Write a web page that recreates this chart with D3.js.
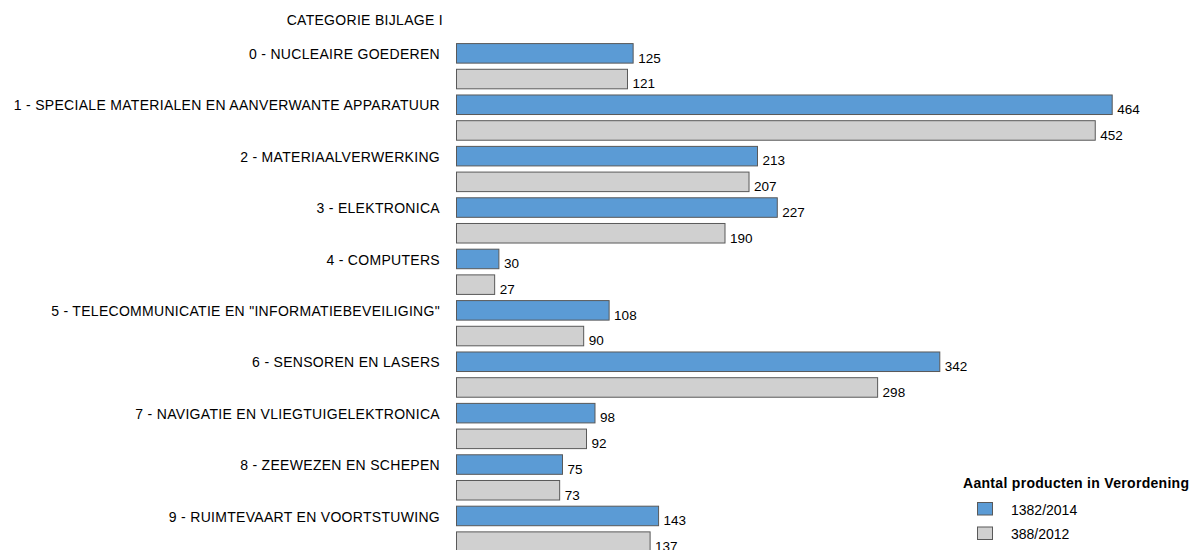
<!DOCTYPE html>
<html>
<head>
<meta charset="utf-8">
<script src="https://cdn.jsdelivr.net/npm/d3@7"></script>
<style>
  body { margin: 0; background: #fff; }
  text { font-family: "Liberation Sans", Arial, sans-serif; font-size: 14px; fill: #000; }
  .lbl { letter-spacing: 0.3px; }
  .val { font-size: 13.5px; }
</style>
</head>
<body>
<div id="chart"></div>
<script>
var categories = [
  '0 - NUCLEAIRE GOEDEREN',
  '1 - SPECIALE MATERIALEN EN AANVERWANTE APPARATUUR',
  '2 - MATERIAALVERWERKING',
  '3 - ELEKTRONICA',
  '4 - COMPUTERS',
  '5 - TELECOMMUNICATIE EN "INFORMATIEBEVEILIGING"',
  '6 - SENSOREN EN LASERS',
  '7 - NAVIGATIE EN VLIEGTUIGELEKTRONICA',
  '8 - ZEEWEZEN EN SCHEPEN',
  '9 - RUIMTEVAART EN VOORTSTUWING'
];
var seriesNames = ['1382/2014', '388/2012'];
var values2014 = [125, 464, 213, 227, 30, 108, 342, 98, 75, 143];
var values2012 = [121, 452, 207, 190, 27, 90, 298, 92, 73, 137];
var colors = { '1382/2014': '#5b9bd5', '388/2012': '#d0d0d0' };

(function draw() {

  var width = 1195, height = 550;

  var svg = d3.select('#chart')
    .append('svg')
      .attr('width', width)
      .attr('height', height);

  var rows = categories.map(function (c, i) {
    return { cat: c, values: [
      { key: seriesNames[0], value: values2014[i] },
      { key: seriesNames[1], value: values2012[i] }
    ] };
  });

  var x = d3.scaleLinear()
      .domain([0, 464])
      .range([456, 1111.7]);

  var y0 = d3.scaleBand()
      .domain(categories)
      .range([40, 40 + 51.4 * categories.length])
      .padding(0);

  var y1 = d3.scaleBand()
      .domain(seriesNames)
      .range([0, y0.bandwidth()])
      .paddingInner(0.24)
      .paddingOuter(0.12);

  svg.append('text')
      .attr('class', 'lbl')
      .attr('x', 443)
      .attr('y', 25)
      .attr('text-anchor', 'end')
      .text('CATEGORIE BIJLAGE I');

  var group = svg.selectAll('g.cat')
      .data(rows)
      .enter()
    .append('g')
      .attr('class', 'cat')
      .attr('transform', function (d) { return 'translate(0,' + y0(d.cat) + ')'; });

  group.append('text')
      .attr('class', 'lbl')
      .attr('x', 440)
      .attr('y', y1(seriesNames[0]) + 16)
      .attr('text-anchor', 'end')
      .text(function (d) { return d.cat; });

  var bar = group.selectAll('g.bar')
      .data(function (d) { return d.values; })
      .enter()
    .append('g')
      .attr('class', 'bar');

  bar.append('rect')
      .attr('x', x(0) + 0.5)
      .attr('y', function (d) { return y1(d.key) + 0.5; })
      .attr('width', function (d) { return x(d.value) - x(0); })
      .attr('height', y1.bandwidth())
      .attr('fill', function (d) { return colors[d.key]; })
      .attr('stroke', '#595959')
      .attr('stroke-width', 1);

  bar.append('text')
      .attr('class', 'val')
      .attr('x', function (d) { return x(d.value) + 5.5; })
      .attr('y', function (d) { return y1(d.key) + y1.bandwidth(); })
      .text(function (d) { return d.value; });

  // legend
  var legend = svg.append('g')
      .attr('transform', 'translate(963,0)');

  legend.append('text')
      .attr('class', 'lbl')
      .attr('x', 0)
      .attr('y', 488)
      .style('font-weight', 'bold')
      .text('Aantal producten in Verordening');

  var item = legend.selectAll('g.item')
      .data(seriesNames)
      .enter()
    .append('g')
      .attr('class', 'item')
      .attr('transform', function (d, i) { return 'translate(0,' + (502 + i * 24.5) + ')'; });

  item.append('rect')
      .attr('x', 14.5)
      .attr('y', 0.5)
      .attr('width', 15)
      .attr('height', 12.5)
      .attr('fill', function (d) { return colors[d]; })
      .attr('stroke', '#595959');

  item.append('text')
      .attr('x', 48)
      .attr('y', 12.5)
      .text(function (d) { return d; });
})();
</script>
</body>
</html>
